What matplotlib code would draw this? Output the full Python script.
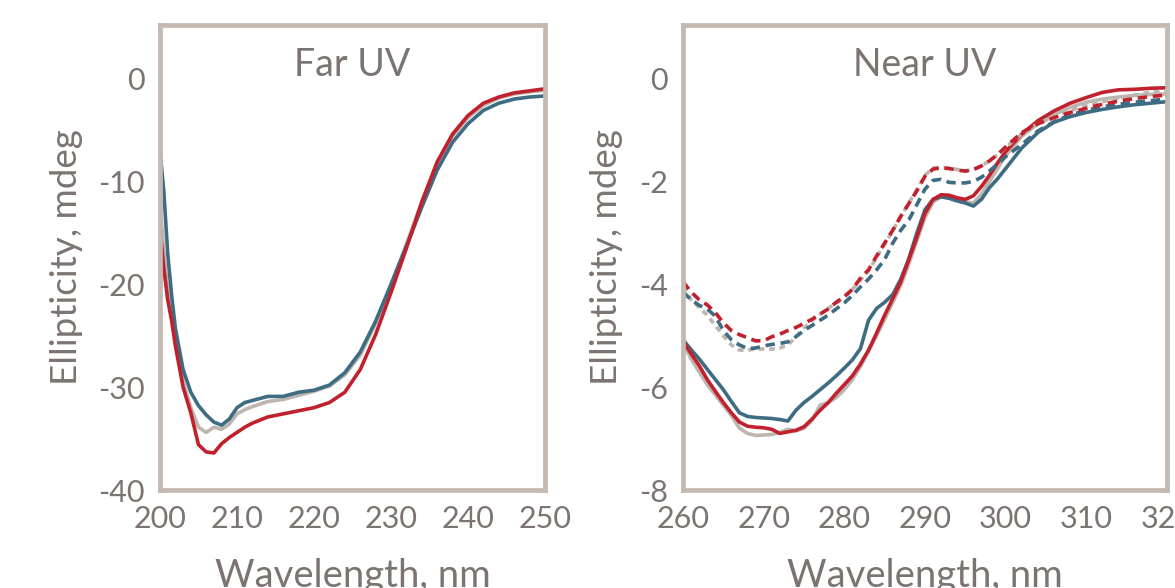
"""Far / near UV circular dichroism spectra, two panels."""
import matplotlib
matplotlib.use("Agg")
import matplotlib.pyplot as plt

plt.rcParams["font.family"] = ["Lato", "DejaVu Sans"]
plt.rcParams["axes.unicode_minus"] = False

FRAME = "#c3b9b1"
INK = "#7b7470"
GREY = "#bdb5ae"
BLUE = "#3e6c82"
RED = "#c1202d"

# ---- Far UV data ------------------------------------------------------------
far_nm = [200, 200.5, 201, 201.5, 202, 203, 204, 205, 206, 207, 208, 209, 210,
          211, 212, 214, 216, 218, 220, 222, 224, 226, 228, 230, 232, 234, 236,
          238, 240, 242, 244, 246, 248, 250]
far_grey = [-12.0, -17.0, -20.5, -22.8, -25.3, -29.5, -32.0, -33.9, -34.4, -33.9,
            -34.1, -33.6, -32.6, -32.2, -31.9, -31.4, -31.2, -30.8, -30.4, -29.9,
            -28.8, -26.9, -23.8, -20.1, -16.1, -12.0, -8.3, -5.6, -3.8, -2.6,
            -1.9, -1.5, -1.3, -1.15]
far_blue = [-7.0, -11.0, -17.0, -21.0, -24.3, -28.3, -30.5, -31.8, -32.7, -33.4,
            -33.7, -33.1, -32.0, -31.5, -31.3, -30.9, -30.9, -30.5, -30.3, -29.8,
            -28.6, -26.6, -23.6, -20.0, -16.3, -12.5, -8.9, -6.2, -4.4, -3.1,
            -2.4, -2.0, -1.8, -1.7]
far_red = [-14.5, -18.5, -21.5, -23.5, -26.0, -30.0, -32.5, -35.6, -36.3, -36.4,
           -35.5, -34.9, -34.4, -33.9, -33.5, -32.9, -32.6, -32.3, -32.0, -31.5,
           -30.5, -28.3, -24.9, -20.8, -16.5, -12.0, -8.1, -5.4, -3.6, -2.4,
           -1.8, -1.4, -1.2, -1.0]

# ---- Near UV data -----------------------------------------------------------
near_nm = list(range(260, 300)) + list(range(300, 321, 2))
near_grey = [-5.15, -5.45, -5.70, -5.95, -6.15, -6.35, -6.55, -6.80, -6.90, -6.94,
             -6.93, -6.92, -6.88, -6.82, -6.85, -6.80, -6.65, -6.35, -6.30, -6.20,
             -6.05, -5.85, -5.60, -5.30, -5.00, -4.68, -4.35, -4.02, -3.60, -3.15,
             -2.70, -2.40, -2.30, -2.32, -2.36, -2.40, -2.42, -2.25, -2.00, -1.75,
             -1.50, -1.12, -0.88, -0.70, -0.56, -0.46, -0.40, -0.36, -0.33, -0.31, -0.30]
near_blue = [-5.08, -5.27, -5.45, -5.65, -5.85, -6.05, -6.28, -6.50, -6.57, -6.59,
             -6.60, -6.61, -6.63, -6.66, -6.45, -6.30, -6.18, -6.05, -5.92, -5.78,
             -5.63, -5.47, -5.25, -4.70, -4.47, -4.35, -4.20, -3.90, -3.50, -3.00,
             -2.55, -2.35, -2.30, -2.33, -2.38, -2.42, -2.48, -2.35, -2.12, -1.95,
             -1.75, -1.35, -1.05, -0.85, -0.74, -0.66, -0.60, -0.55, -0.51, -0.48, -0.45]
near_red = [-5.10, -5.35, -5.58, -5.85, -6.08, -6.30, -6.50, -6.68, -6.76, -6.78,
            -6.79, -6.82, -6.90, -6.87, -6.84, -6.77, -6.62, -6.45, -6.30, -6.12,
            -5.95, -5.78, -5.55, -5.28, -4.95, -4.60, -4.28, -3.95, -3.52, -3.08,
            -2.62, -2.35, -2.26, -2.27, -2.32, -2.35, -2.28, -2.10, -1.88, -1.64,
            -1.42, -1.08, -0.82, -0.63, -0.48, -0.37, -0.27, -0.22, -0.21, -0.19, -0.18]
near_grey_dash = [-4.05, -4.30, -4.45, -4.60, -4.80, -5.00, -5.18, -5.28, -5.28, -5.26,
                  -5.26, -5.26, -5.24, -5.18, -5.02, -4.85, -4.70, -4.58, -4.47, -4.36,
                  -4.25, -4.10, -3.92, -3.74, -3.48, -3.22, -2.96, -2.68, -2.42, -2.16,
                  -1.88, -1.74, -1.73, -1.74, -1.77, -1.80, -1.77, -1.70, -1.60, -1.48,
                  -1.34, -1.08, -0.88, -0.74, -0.62, -0.52, -0.45, -0.38, -0.32, -0.27, -0.24]
near_blue_dash = [-4.15, -4.30, -4.41, -4.48, -4.62, -4.90, -5.08, -5.18, -5.25, -5.24,
                  -5.20, -5.17, -5.15, -5.12, -5.02, -4.90, -4.80, -4.70, -4.60, -4.48,
                  -4.36, -4.22, -4.05, -3.90, -3.72, -3.52, -3.20, -2.95, -2.75, -2.45,
                  -2.15, -1.98, -1.96, -2.02, -2.03, -2.03, -2.00, -1.92, -1.80, -1.66,
                  -1.52, -1.28, -1.02, -0.84, -0.71, -0.62, -0.55, -0.50, -0.46, -0.43, -0.40]
near_red_dash = [-3.95, -4.15, -4.30, -4.40, -4.55, -4.75, -4.90, -4.98, -5.04, -5.10,
                 -5.10, -5.02, -4.97, -4.90, -4.84, -4.76, -4.68, -4.58, -4.48, -4.35,
                 -4.24, -4.10, -3.88, -3.72, -3.45, -3.20, -2.95, -2.68, -2.43, -2.18,
                 -1.90, -1.76, -1.74, -1.75, -1.78, -1.80, -1.77, -1.70, -1.60, -1.48,
                 -1.33, -1.05, -0.88, -0.76, -0.66, -0.58, -0.50, -0.44, -0.39, -0.35, -0.32]


def style(ax, title, xlim, ylim, xticks, yticks):
    ax.set_xlim(*xlim)
    ax.set_ylim(*ylim)
    ax.set_xticks(xticks)
    ax.set_yticks(yticks)
    for s in ax.spines.values():
        s.set_color(FRAME)
        s.set_linewidth(3.4)
    ax.tick_params(length=0, labelsize=22, colors=INK, pad=11)
    ax.text(0.5, 0.915, title, transform=ax.transAxes, ha="center", va="center",
            fontsize=27, color=INK)
    ax.set_xlabel("Wavelength, nm", fontsize=27.5, color=INK, labelpad=18)
    ax.set_ylabel("Ellipticity, mdeg", fontsize=26.5, color=INK, labelpad=11)


fig = plt.figure(figsize=(11.75, 5.88), dpi=100)

ax = fig.add_axes([160 / 1175, 98 / 588, 385 / 1175, 465 / 588])
lw = 2.6
ax.plot(far_nm, far_grey, color=GREY, lw=lw)
ax.plot(far_nm, far_blue, color=BLUE, lw=lw)
ax.plot(far_nm, far_red, color=RED, lw=lw)
style(ax, "Far UV", (200, 250), (-40, 5.2), range(200, 251, 10), range(-40, 1, 10))

ax = fig.add_axes([683 / 1175, 98 / 588, 484 / 1175, 465 / 588])
ax.plot(near_nm, near_grey, color=GREY, lw=lw)
ax.plot(near_nm, near_blue, color=BLUE, lw=lw)
ax.plot(near_nm, near_red, color=RED, lw=lw)
ax.plot(near_nm, near_grey_dash, color=GREY, lw=lw, ls=(0, (1.6, 1.3)))
ax.plot(near_nm, near_blue_dash, color=BLUE, lw=lw, ls=(0, (2.6, 1.6)))
ax.plot(near_nm, near_red_dash, color=RED, lw=lw, ls=(0, (2.6, 1.6)))
style(ax, "Near UV", (260, 320), (-8, 1.04), range(260, 321, 10), range(-8, 1, 2))

fig.savefig("out.png", dpi=100)
